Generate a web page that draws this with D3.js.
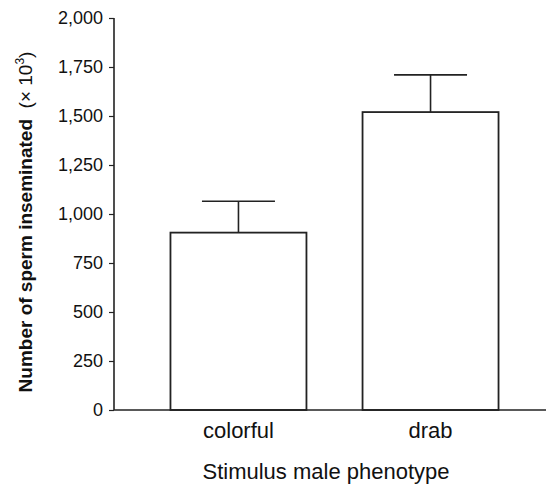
<!DOCTYPE html>
<html>
<head>
<meta charset="utf-8">
<script src="https://cdn.jsdelivr.net/npm/d3@7"></script>
<style>
  body { margin: 0; background: #fff; overflow: hidden; }
  svg { display: block; font-family: "Liberation Sans", Arial, sans-serif; }
</style>
</head>
<body>
<svg></svg>
<script>
var categories = ["colorful", "drab"];
var means = [905, 1520];
var upper = [1065, 1710];
var yTicks = [0, 250, 500, 750, 1000, 1250, 1500, 1750, 2000];

var W = 546, H = 484;
var plotLeft = 114, plotTop = 18, plotBottom = 410;

var svg = d3.select("svg")
    .attr("width", W)
    .attr("height", H);

var y = d3.scaleLinear()
    .domain([0, 2000])
    .range([plotBottom, plotTop]);

var x = d3.scaleBand()
    .domain(categories)
    .range([plotLeft, 555])
    .paddingInner(0.292)
    .paddingOuter(0.294);

var ink = "#222";

// bars
svg.append("g")
    .selectAll("rect")
    .data(categories)
    .enter()
    .append("rect")
        .attr("x", function(d) { return x(d); })
        .attr("y", function(d, i) { return y(means[i]); })
        .attr("width", x.bandwidth())
        .attr("height", function(d, i) { return plotBottom - y(means[i]); })
        .attr("fill", "#fff")
        .attr("stroke", ink)
        .attr("stroke-width", 1.8);

// error bars (upper only)
var err = svg.append("g")
    .attr("stroke", ink)
    .attr("stroke-width", 1.6);
categories.forEach(function(c, i) {
    var cx = x(c) + x.bandwidth() / 2;
    err.append("line")
        .attr("x1", cx).attr("x2", cx)
        .attr("y1", y(means[i])).attr("y2", y(upper[i]));
    err.append("line")
        .attr("x1", cx - 36.5).attr("x2", cx + 36.5)
        .attr("y1", y(upper[i])).attr("y2", y(upper[i]));
});

// y axis
var yAxis = svg.append("g")
    .attr("transform", "translate(" + plotLeft + ",0)")
    .call(d3.axisLeft(y)
        .tickValues(yTicks)
        .tickSize(5)
        .tickPadding(6)
        .tickFormat(d3.format(",")));
yAxis.select(".domain")
    .attr("d", "M0," + plotTop + "V" + plotBottom)
    .attr("stroke", ink)
    .attr("stroke-width", 1.6);
yAxis.selectAll(".tick line").attr("stroke", ink).attr("stroke-width", 1.2);
yAxis.selectAll(".tick text")
    .attr("font-size", 18)
    .attr("font-family", "Liberation Sans, Arial, sans-serif")
    .attr("fill", "#111");

// x axis
var xAxis = svg.append("g")
    .attr("transform", "translate(0," + plotBottom + ")")
    .call(d3.axisBottom(x).tickSize(0).tickPadding(12.5));
xAxis.select(".domain")
    .attr("d", "M" + plotLeft + ",0H" + W)
    .attr("stroke", ink)
    .attr("stroke-width", 1.6);
xAxis.selectAll(".tick text")
    .attr("font-size", 22)
    .attr("font-family", "Liberation Sans, Arial, sans-serif")
    .attr("fill", "#111");

// axis titles
svg.append("text")
    .attr("x", 326)
    .attr("y", 479)
    .attr("text-anchor", "middle")
    .attr("font-size", 22)
    .attr("fill", "#111")
    .text("Stimulus male phenotype");

var yt = svg.append("text")
    .attr("transform", "translate(31.5,222) rotate(-90)")
    .attr("text-anchor", "middle")
    .attr("font-size", 19)
    .attr("fill", "#111");
yt.append("tspan").attr("font-weight", "bold").text("Number of sperm inseminated");
yt.append("tspan").text("\u00a0 (\u00d7 10");
yt.append("tspan").attr("font-size", 12).attr("dy", -8).text("3");
yt.append("tspan").attr("dy", 8).text(")");
</script>
</body>
</html>
